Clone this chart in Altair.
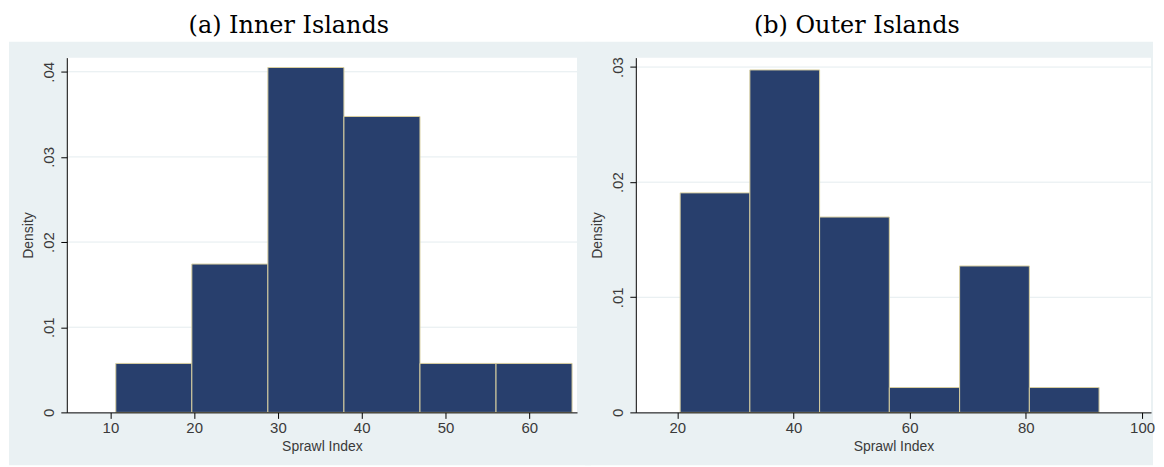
import altair as alt
import pandas as pd

panel_titles = ["(a) Inner Islands", "(b) Outer Islands"]

inner_edges = [10.64, 19.72, 28.80, 37.88, 46.96, 56.04, 65.12]
inner_density = [0.00575, 0.01742, 0.0405, 0.03475, 0.00575, 0.00575]
outer_edges = [20.5, 32.5, 44.5, 56.5, 68.6, 80.6, 92.6]
outer_density = [0.01907, 0.02975, 0.01697, 0.00216, 0.01272, 0.00216]

inner_xticks = [10, 20, 30, 40, 50, 60]
outer_xticks = [20, 40, 60, 80, 100]
inner_yticks = [0, 0.01, 0.02, 0.03, 0.04]
outer_yticks = [0, 0.01, 0.02, 0.03]

NAVY = "#283F6D"
EDGE = "#D8CFA0"
BAND = "#EAF1F3"
GRID = "#E4ECEF"
LABEL = "#3a3a3a"
SANS = "Liberation Sans Narrow, Liberation Sans, Arial"


def panel(title, edges, dens, xticks, yticks, xdom, ydom, w, h, gray_x, title_x):
    bars = pd.DataFrame({"lo": edges[:-1], "hi": edges[1:], "d": dens})
    grid = pd.DataFrame({"v": [t for t in yticks if t > 0]})
    one = pd.DataFrame({"k": [0]})
    ttl = pd.DataFrame({"t": [title]})

    xscale = alt.Scale(domain=xdom, nice=False, zero=False)
    yscale = alt.Scale(domain=ydom, nice=False, zero=False)
    yaxis = alt.Axis(
        values=yticks, title="Density", grid=False, zindex=1,
        labelExpr="datum.value == 0 ? '0' : substring(format(datum.value, '.2f'), 1)",
        labelAngle=270, labelAlign="center", labelBaseline="bottom",
        labelFont=SANS, labelFontSize=15, labelColor=LABEL, labelPadding=4,
        titleFont="Liberation Sans", titleFontSize=14, titleFontWeight="normal",
        titleColor=LABEL, titlePadding=6,
        domainColor="black", tickColor="black", tickSize=6,
    )
    xaxis = alt.Axis(
        values=xticks, title="Sprawl Index", grid=False, zindex=1,
        labelFont=SANS, labelFontSize=15, labelColor=LABEL, labelPadding=2,
        titleFont="Liberation Sans", titleFontSize=14, titleFontWeight="normal",
        titleColor=LABEL, titlePadding=4,
        domainColor="black", tickColor="black", tickSize=6,
    )

    top_white = alt.Chart(one).mark_rect(fill="white").encode(
        x=alt.value(gray_x[0]), x2=alt.value(gray_x[1]),
        y=alt.value(-48), y2=alt.value(-16))
    band = alt.Chart(one).mark_rect(fill=BAND).encode(
        x=alt.value(gray_x[0]), x2=alt.value(gray_x[1]),
        y=alt.value(-16), y2=alt.value(409))
    plotbg = alt.Chart(one).mark_rect(fill="white").encode(
        x=alt.value(0), x2=alt.value(w), y=alt.value(0), y2=alt.value(h))
    gridlines = alt.Chart(grid).mark_rule(color=GRID, strokeWidth=1).encode(
        y=alt.Y("v:Q", scale=yscale, axis=yaxis),
        x=alt.value(0), x2=alt.value(w))
    hist = alt.Chart(bars).mark_rect(fill=NAVY, stroke=EDGE, strokeWidth=1).encode(
        x=alt.X("lo:Q", scale=xscale, axis=xaxis),
        x2="hi:Q",
        y=alt.Y("d:Q", scale=yscale, axis=yaxis),
        y2=alt.datum(0),
    )
    head = alt.Chart(ttl).mark_text(
        font="DejaVu Serif", fontSize=24, align="center",
        baseline="alphabetic", color="black").encode(
        text="t:N", x=alt.value(title_x), y=alt.value(-24.4))

    return alt.layer(top_white, band, plotbg, gridlines, hist, head).properties(
        width=w, height=h)


left = panel(panel_titles[0], inner_edges, inner_density, inner_xticks, inner_yticks,
             [4.79, 65.71], [0, 0.04166], 512, 356, (-58, 526), 222.8)
right = panel(panel_titles[1], outer_edges, outer_density, outer_xticks, outer_yticks,
              [12.87, 101.54], [0, 0.03082], 517, 356, (-51, 519), 221.8)

chart = alt.hconcat(left, right, spacing=59, bounds="flush").properties(
    padding=0).configure_view(stroke=None).configure(background="white")

chart.save("out.html", embed_options={"renderer": "svg", "actions": False})
